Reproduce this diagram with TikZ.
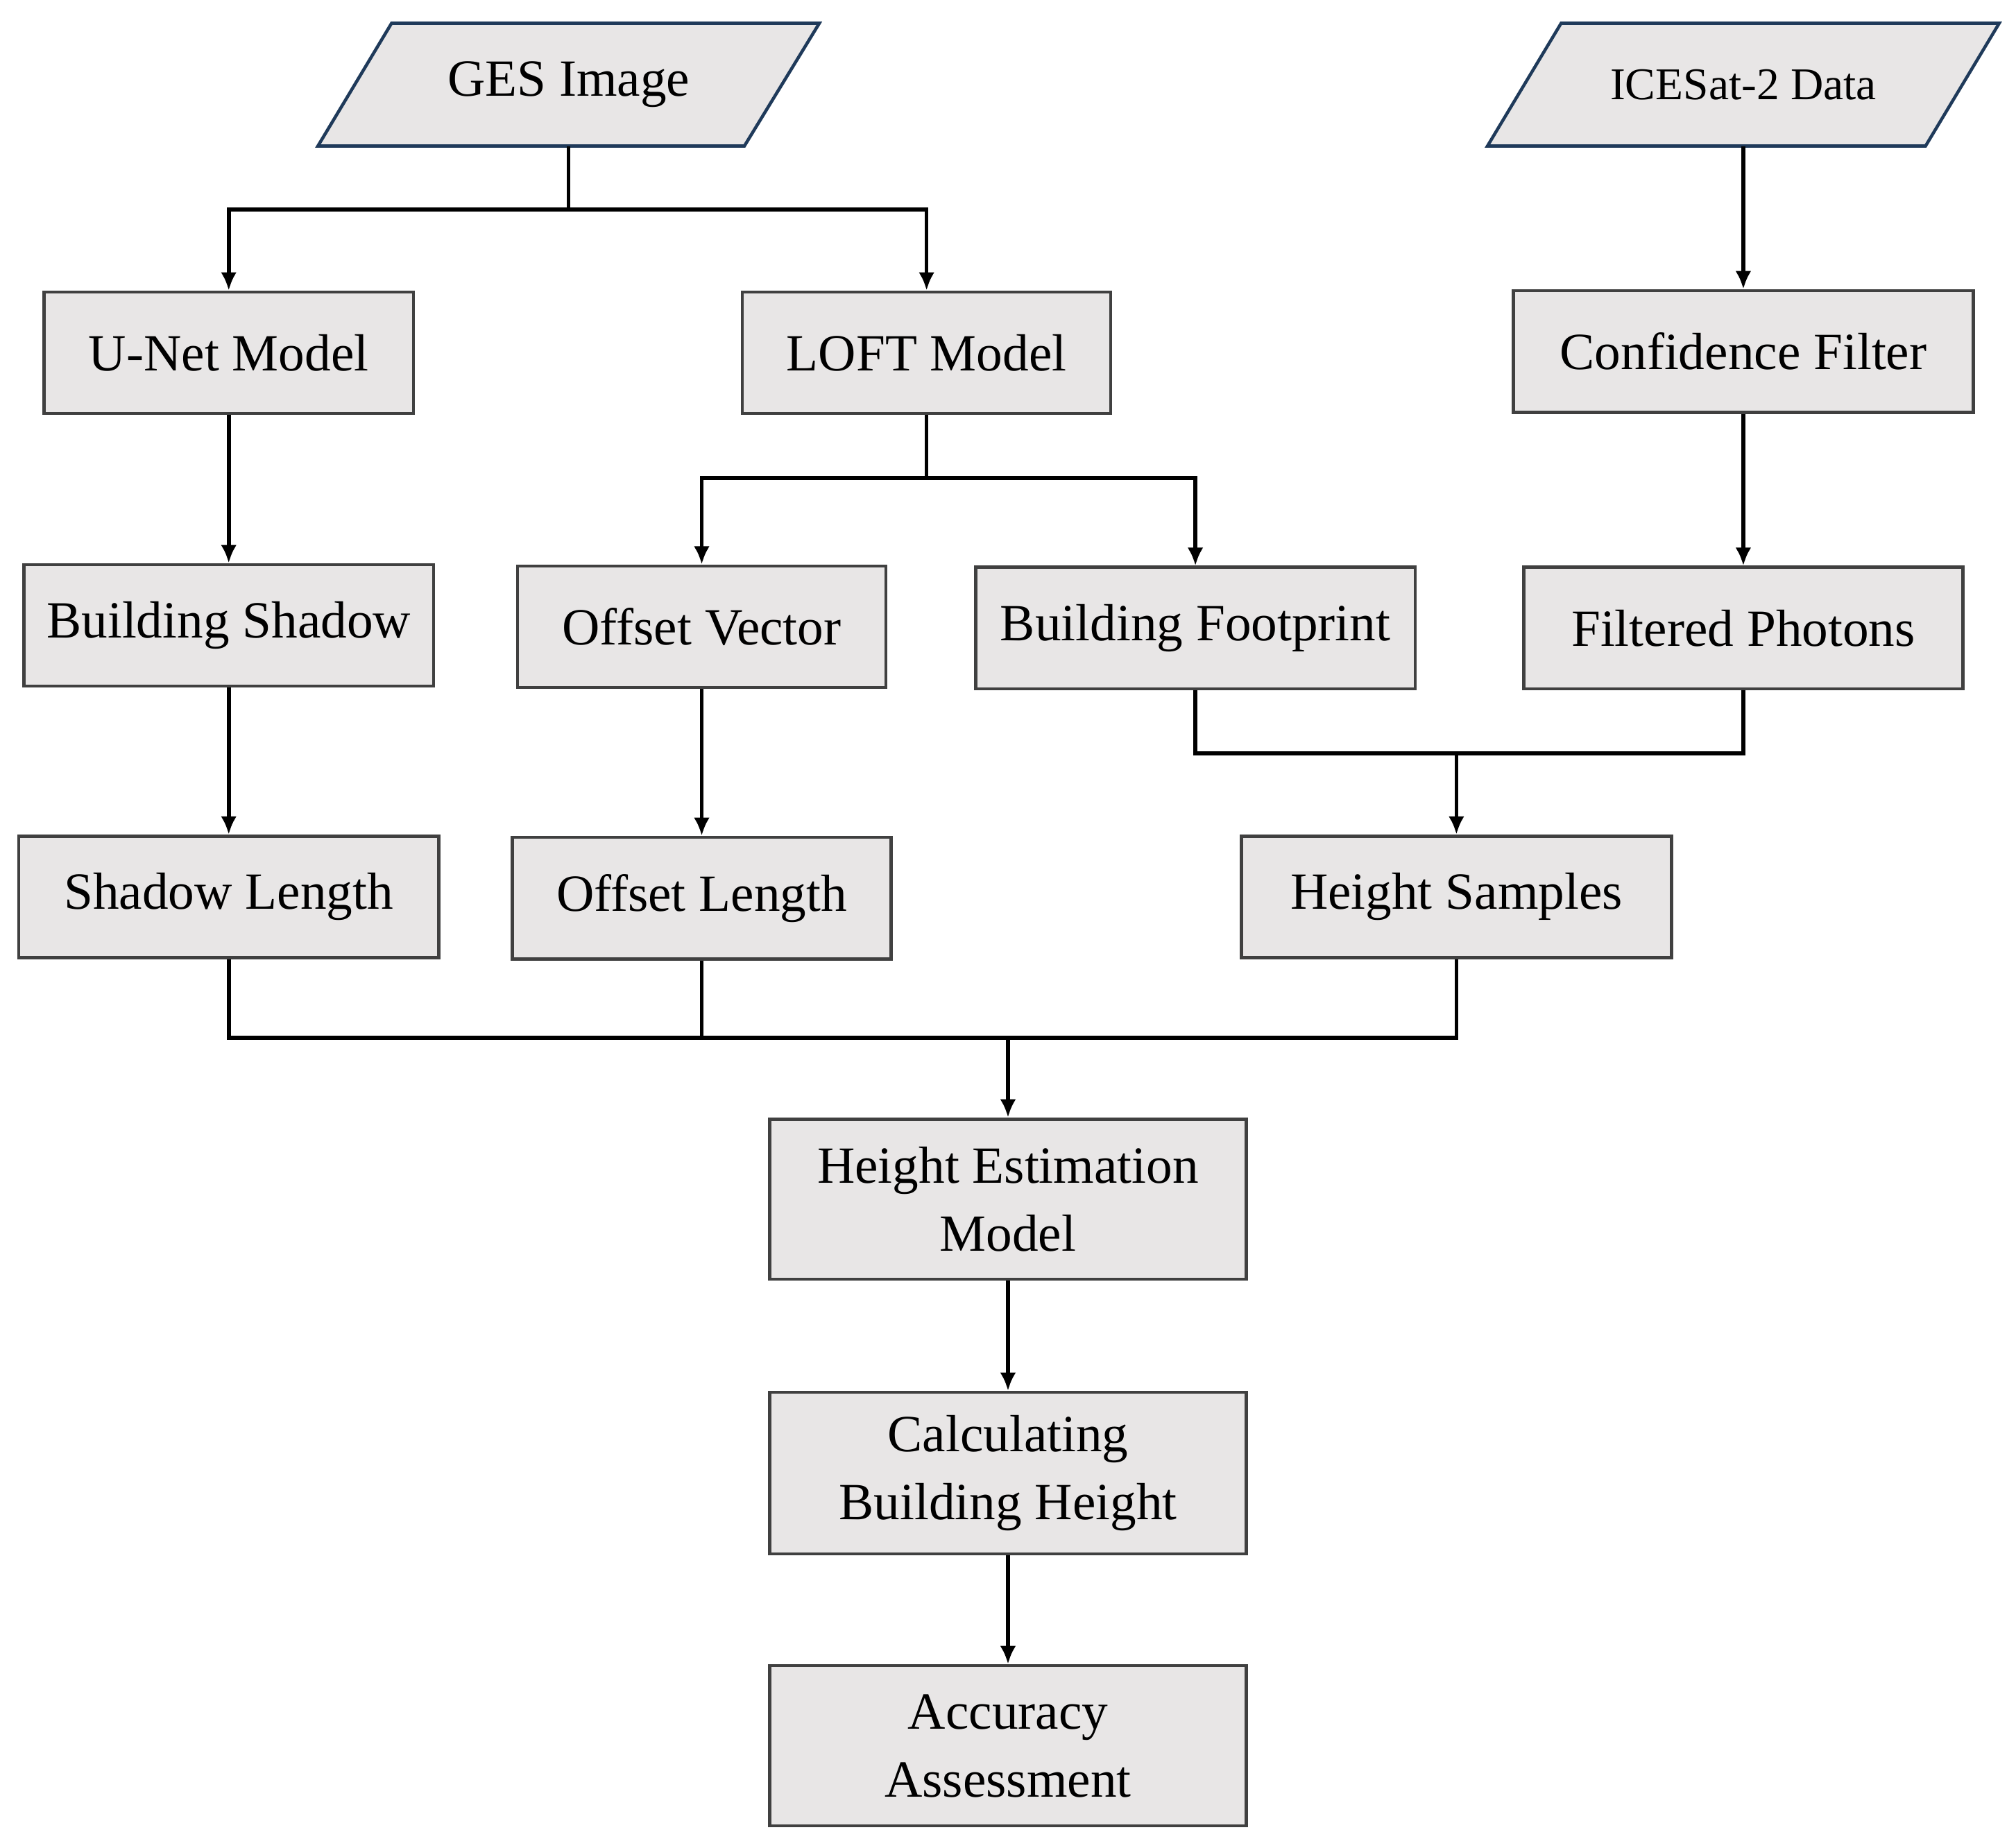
\documentclass[tikz,border=0pt]{standalone}
\usepackage{fontspec}
\setmainfont{Liberation Serif}
\usetikzlibrary{arrows.meta}
\definecolor{boxfill}{HTML}{E8E6E6}
\definecolor{boxline}{HTML}{404040}
\definecolor{paraline}{HTML}{1F3A5A}
\begin{document}
\begin{tikzpicture}[x=0.02cm,y=-0.02cm,
  box/.style={draw=boxline,fill=boxfill,line width=1.4pt,inner sep=0pt,align=center,font=\fontsize{23}{30}\selectfont},
  para/.style={draw=paraline,fill=boxfill,line width=1.4pt},
  arr/.style={line width=1.7pt,-{Latex[length=8pt,width=7pt]}},
  ln/.style={line width=1.7pt}]
\useasboundingbox (0,0) rectangle (1560,1423);
\draw[para] (303,18) -- (634,18) -- (576,113) -- (246,113) -- cycle;
\draw[para] (1208,18) -- (1547,18) -- (1490,113) -- (1151,113) -- cycle;
\node[inner sep=0pt,minimum height=95*0.02cm,font=\fontsize{23}{30}\selectfont] (ges) at (440,65.5) {GES Image};
\node[inner sep=0pt,minimum height=95*0.02cm,font=\fontsize{20}{26}\selectfont] (ice) at (1349,65.5) {ICESat-2 Data};
\node[box,minimum width=286*0.02cm,minimum height=94*0.02cm] (unet) at (177,273) {U-Net Model};
\node[box,minimum width=285*0.02cm,minimum height=94*0.02cm] (loft) at (717,273) {LOFT Model};
\node[box,minimum width=356*0.02cm,minimum height=94*0.02cm] (conf) at (1349,272) {Confidence Filter};
\node[box,minimum width=317*0.02cm,minimum height=94*0.02cm] (bsh) at (177,484) {Building Shadow};
\node[box,minimum width=285*0.02cm,minimum height=94*0.02cm] (ov) at (543,485) {Offset Vector};
\node[box,minimum width=340*0.02cm,minimum height=94*0.02cm] (bf) at (925,486) {Building Footprint};
\node[box,minimum width=340*0.02cm,minimum height=94*0.02cm] (fp) at (1349,486) {Filtered Photons};
\node[box,minimum width=325*0.02cm,minimum height=94*0.02cm] (sl) at (177,694) {Shadow Length};
\node[box,minimum width=293*0.02cm,minimum height=94*0.02cm] (ol) at (543,695) {Offset Length};
\node[box,minimum width=333*0.02cm,minimum height=94*0.02cm] (hs) at (1127,694) {Height Samples};
\node[box,minimum width=369*0.02cm,minimum height=124*0.02cm] (hem) at (780,928) {Height Estimation\\Model};
\node[box,minimum width=369*0.02cm,minimum height=125*0.02cm] (cbh) at (780,1140) {Calculating\\Building Height};
\node[box,minimum width=369*0.02cm,minimum height=124*0.02cm] (acc) at (780,1351) {Accuracy\\Assessment};
\coordinate (j1) at (440,162);
\coordinate (j2) at (717,370);
\coordinate (j3) at (1127,583);
\coordinate (j4) at (780,803);
\draw[ln] (ges.south) -- (j1);
\draw[arr] (j1) -| (unet.north);
\draw[arr] (j1) -| (loft.north);
\draw[arr] (ice.south) -- (conf.north);
\draw[arr] (unet) -- (bsh);
\draw[ln] (loft.south) -- (j2);
\draw[arr] (j2) -| (ov.north);
\draw[arr] (j2) -| (bf.north);
\draw[arr] (conf) -- (fp);
\draw[arr] (bsh) -- (sl);
\draw[arr] (ov) -- (ol);
\draw[ln] (bf.south) |- (j3);
\draw[ln] (fp.south) |- (j3);
\draw[arr] (j3) -- (hs.north);
\draw[ln] (sl.south) |- (j4);
\draw[ln] (ol.south) |- (j4);
\draw[ln] (hs.south) |- (j4);
\draw[arr] (j4) -- (hem.north);
\draw[arr] (hem) -- (cbh);
\draw[arr] (cbh) -- (acc);
\end{tikzpicture}
\end{document}
